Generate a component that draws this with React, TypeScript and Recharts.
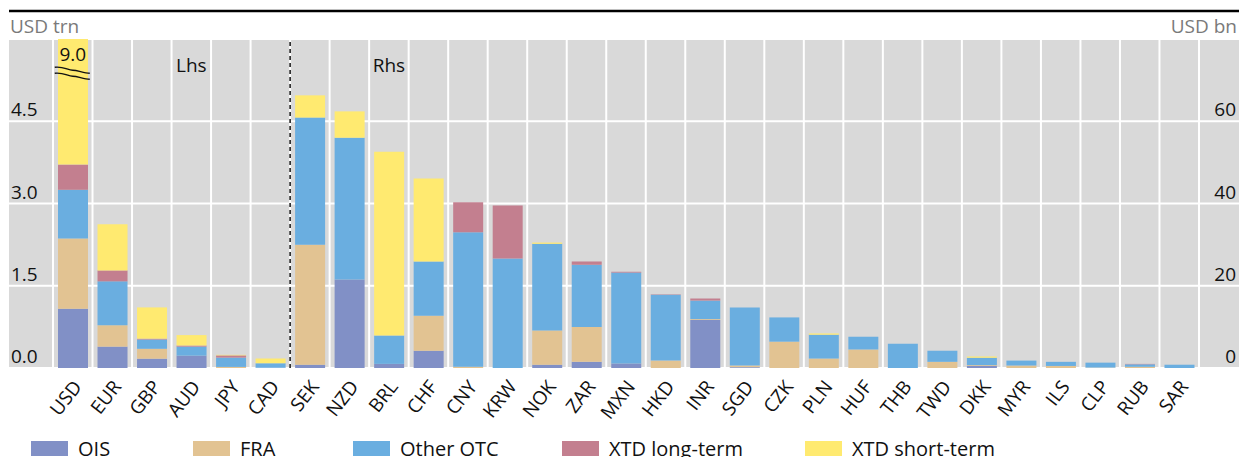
import React from "react";
import {
  Bar,
  BarChart,
  CartesianGrid,
  Legend,
  ReferenceDot,
  ReferenceLine,
  XAxis,
  YAxis,
} from "recharts";

const FONT = "'Open Sans', 'Noto Sans', sans-serif";

// Lhs currencies in USD trn, Rhs currencies in USD bn
const lhsCats = ["USD", "EUR", "GBP", "AUD", "JPY", "CAD"];
const rhsCats = [
  "SEK", "NZD", "BRL", "CHF", "CNY", "KRW", "NOK", "ZAR", "MXN", "HKD", "INR", "SGD",
  "CZK", "PLN", "HUF", "THB", "TWD", "DKK", "MYR", "ILS", "CLP", "RUB", "SAR",
];
const categories = [...lhsCats, ...rhsCats];

const ois = [1.08, 0.39, 0.17, 0.225, 0, 0.005, 0.8, 21.5, 1.0, 4.2, 0, 0, 0.8, 1.5, 1.1, 0, 11.7, 0.2, 0, 0, 0, 0, 0, 0.5, 0, 0, 0, 0, 0];
const fra = [1.28, 0.39, 0.18, 0, 0.02, 0, 29.2, 0, 0, 8.5, 0.3, 0, 8.3, 8.5, 0, 1.8, 0.2, 0.4, 6.4, 2.3, 4.5, 0, 1.5, 0.2, 0.6, 0.5, 0.1, 0.3, 0];
const otherOtc = [0.89, 0.8, 0.17, 0.165, 0.17, 0.08, 30.9, 34.5, 6.9, 13.2, 32.7, 26.6, 21.1, 15.1, 22.1, 16.0, 4.5, 14.1, 5.9, 5.8, 3.1, 5.9, 2.7, 1.8, 1.2, 1.0, 1.2, 0.6, 0.8];
const xtdLong = [0.46, 0.2, 0.015, 0.02, 0.04, 0, 0, 0, 0, 0, 7.3, 12.9, 0, 0.8, 0.2, 0.1, 0.5, 0, 0, 0, 0, 0, 0, 0, 0, 0, 0, 0.1, 0];
const xtdShort = [5.29, 0.84, 0.57, 0.19, 0.01, 0.09, 5.4, 6.4, 44.7, 20.2, 0, 0, 0.3, 0, 0, 0, 0, 0, 0, 0.3, 0, 0, 0, 0.3, 0, 0, 0, 0, 0];

const usdTotalLabel = "9.0";
const lhsTicks = [0, 1.5, 3, 4.5];
const rhsTicks = [0, 20, 40, 60];

const series = [
  { key: "ois", name: "OIS", values: ois, color: "#8190c6" },
  { key: "fra", name: "FRA", values: fra, color: "#e2c392" },
  { key: "oth", name: "Other OTC", values: otherOtc, color: "#6aaee0" },
  { key: "xl", name: "XTD long-term", values: xtdLong, color: "#c37f8f" },
  { key: "xs", name: "XTD short-term", values: xtdShort, color: "#ffea70" },
];

const data = categories.map((cat, i) => {
  const row: Record<string, string | number> = { cat };
  const side = i < lhsCats.length ? "_l" : "_r";
  series.forEach((s) => {
    row[s.key + side] = s.values[i];
  });
  return row;
});

const legendWidths = [162, 160, 209, 243, 200];

const XTick = ({ x, y, payload }: any) => (
  <text
    x={x + 10}
    y={y + 19}
    transform={`rotate(-52 ${x + 10} ${y + 19})`}
    textAnchor="end"
    fontSize={19}
    fontFamily={FONT}
    fill="#111"
  >
    {payload.value}
  </text>
);

const LeftTick = ({ y, payload }: any) => (
  <text x={11} y={y - 5} fontSize={19} fontFamily={FONT} fill="#111">
    {Number(payload.value).toFixed(1)}
  </text>
);

const RightTick = ({ y, payload }: any) => (
  <text x={1236} y={y - 5} textAnchor="end" fontSize={19} fontFamily={FONT} fill="#111">
    {payload.value}
  </text>
);

// axis-break marks across the USD bar
const BreakMark = ({ cx, cy }: any) => {
  const wave = (yy: number) =>
    `M ${cx - 18} ${yy - 3} C ${cx - 9} ${yy - 4} ${cx - 5} ${yy} ${cx} ${yy} S ${cx + 11} ${yy + 3} ${cx + 17} ${yy + 3}`;
  return (
    <g>
      <path d={wave(cy)} stroke="#111" strokeWidth={1.3} fill="none" />
      <path d={wave(cy + 6)} stroke="#111" strokeWidth={1.3} fill="none" />
    </g>
  );
};

const LegendContent = () => (
  <div style={{ display: "flex", paddingLeft: 31, fontFamily: FONT, fontSize: 20 }}>
    {series.map((s, i) => (
      <div key={s.key} style={{ display: "flex", alignItems: "flex-start", width: legendWidths[i] }}>
        <div style={{ width: 37, height: 15, background: s.color, marginTop: 5, marginRight: 10 }} />
        <span style={{ color: "#111", lineHeight: "26px" }}>{s.name}</span>
      </div>
    ))}
  </div>
);

export default function App() {
  return (
    <div style={{ position: "absolute", left: 0, top: 0, width: 1245, height: 457, background: "#fff", overflow: "hidden" }}>
      <BarChart
        width={1245}
        height={457}
        data={data}
        margin={{ top: 39, right: 5, bottom: 0, left: 8 }}
        barSize={30}
      >
        <CartesianGrid
          xAxisId="l"
          yAxisId="left"
          vertical={false}
          fill="#d9d9d9"
          fillOpacity={1}
          stroke="#ffffff"
          strokeWidth={2}
        />
        <XAxis
          xAxisId="l"
          dataKey="cat"
          interval={0}
          height={89}
          padding={{ left: 44, right: 40 }}
          axisLine={false}
          tickLine={false}
          tickSize={0}
          tickMargin={0}
          tick={<XTick />}
        />
        <XAxis xAxisId="r" dataKey="cat" hide height={0} padding={{ left: 44, right: 40 }} />
        <YAxis
          yAxisId="left"
          width={1}
          domain={[0, 6]}
          ticks={lhsTicks}
          allowDataOverflow
          axisLine={false}
          tickLine={false}
          tick={<LeftTick />}
        />
        <YAxis
          yAxisId="right"
          orientation="right"
          width={1}
          domain={[0, 80]}
          ticks={rhsTicks}
          axisLine={false}
          tickLine={false}
          tick={<RightTick />}
        />
        {categories.map((c) => (
          <ReferenceLine
            key={"g" + c}
            xAxisId="l"
            yAxisId="left"
            x={c}
            position="start"
            stroke="#ffffff"
            strokeWidth={2}
          />
        ))}
        <ReferenceLine
          xAxisId="l"
          yAxisId="left"
          x={categories[categories.length - 1]}
          position="end"
          stroke="#ffffff"
          strokeWidth={2}
        />
        <ReferenceLine
          xAxisId="l"
          yAxisId="left"
          x={rhsCats[0]}
          position="start"
          stroke="#111"
          strokeWidth={1.5}
          strokeDasharray="4 3"
        />
        {series.map((s) => (
          <Bar
            key={s.key + "_l"}
            xAxisId="l"
            yAxisId="left"
            dataKey={s.key + "_l"}
            stackId="l"
            fill={s.color}
            name={s.name}
            isAnimationActive={false}
          />
        ))}
        {series.map((s) => (
          <Bar
            key={s.key + "_r"}
            xAxisId="r"
            yAxisId="right"
            dataKey={s.key + "_r"}
            stackId="r"
            fill={s.color}
            name={s.name}
            isAnimationActive={false}
            legendType="none"
          />
        ))}
        <ReferenceDot
          xAxisId="l"
          yAxisId="left"
          x="USD"
          y={5.43}
          r={1}
          shape={<BreakMark />}
        />
        <ReferenceDot
          xAxisId="l"
          yAxisId="left"
          x="USD"
          y={5.72}
          r={0}
          fill="none"
          stroke="none"
          label={{ value: usdTotalLabel, position: "center", fontSize: 19, fontFamily: FONT, fill: "#111" }}
        />
        <ReferenceDot
          xAxisId="l"
          yAxisId="left"
          x="AUD"
          y={5.53}
          r={0}
          fill="none"
          stroke="none"
          label={{ value: "Lhs", position: "center", fontSize: 19, fontFamily: FONT, fill: "#111" }}
        />
        <ReferenceDot
          xAxisId="l"
          yAxisId="left"
          x="BRL"
          y={5.53}
          r={0}
          fill="none"
          stroke="none"
          label={{ value: "Rhs", position: "center", fontSize: 19, fontFamily: FONT, fill: "#111" }}
        />
        <Legend
          layout="horizontal"
          verticalAlign="middle"
          align="center"
          content={<LegendContent />}
          wrapperStyle={{ position: "absolute", left: 0, top: 436, width: 1245 }}
        />
      </BarChart>
      <svg width={1245} height={40} style={{ position: "absolute", left: 0, top: 0, pointerEvents: "none" }}>
        <line x1={9} x2={1239} y1={11} y2={11} stroke="#000" strokeWidth={2.5} />
        <text x={10} y={32.5} fontSize={19} fontFamily={FONT} fill="#7a7a7a">
          USD trn
        </text>
        <text x={1237} y={32.5} textAnchor="end" fontSize={19} fontFamily={FONT} fill="#7a7a7a">
          USD bn
        </text>
      </svg>
    </div>
  );
}
